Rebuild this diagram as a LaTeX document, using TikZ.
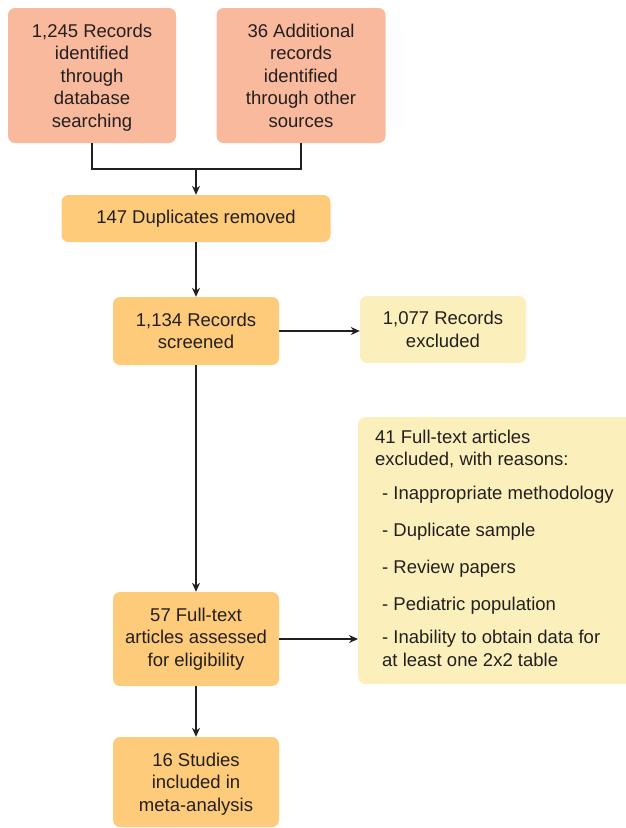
\documentclass[tikz,border=0pt]{standalone}
\usepackage{fontspec}
\setmainfont{Liberation Sans}
\usetikzlibrary{arrows.meta}
\definecolor{salmon}{HTML}{F9B99D}
\definecolor{orangebox}{HTML}{FDCB79}
\definecolor{paleyellow}{HTML}{FBF0BB}
\definecolor{ink}{HTML}{231F20}
\tikzset{
  x=1pt,y=1pt,
  boxbase/.style={rectangle, rounded corners=7pt, draw=none, align=center,
    inner sep=0pt, text=ink, font=\fontsize{18.5}{22.5}\selectfont},
  topbox/.style={boxbase, fill=salmon},
  orbox/.style={boxbase, fill=orangebox},
  ylbox/.style={boxbase, fill=paleyellow},
  conn/.style={draw=ink, line width=1.4pt},
  arr/.style={conn, -{Stealth[length=9pt,width=8pt]}}
}
\begin{document}
\begin{tikzpicture}
\clip (0,0) rectangle (626,-828);
\useasboundingbox (0,0) rectangle (626,-828);
\node[topbox, minimum width=168pt, minimum height=135pt] (A) at (92,-75.5)
  {1,245 Records\\identified\\through\\database\\\smash{searching}};
\node[topbox, minimum width=169pt, minimum height=135pt] (B) at (301,-75.5)
  {36 Additional\\records\\identified\\through other\\sources};
\node[orbox, minimum width=269pt, minimum height=47pt] (dup) at (196,-218.5)
  {147 Duplicates removed};
\node[orbox, minimum width=166pt, minimum height=68pt] (scr) at (196,-331)
  {1,134 Records\\screened};
\node[ylbox, minimum width=166pt, minimum height=67pt] (exc) at (443,-329.5)
  {1,077 Records\\excluded};
\node[orbox, minimum width=166pt, minimum height=94pt] (full) at (196,-639)
  {57 Full-text\\articles assessed\\for eligibility};
\node[ylbox, minimum width=290pt, minimum height=267pt, anchor=north west] (rsn) at (358,-417) {};
\node[boxbase, align=left, anchor=north west] (rsntext) at (375,-429.5)
  {41 Full-text articles\\excluded, with reasons:\\[11.5pt]
   \hspace{7pt}- Inappropriate methodology\\[14.5pt]
   \hspace{7pt}- Duplicate sample\\[14.5pt]
   \hspace{7pt}- Review papers\\[14.5pt]
   \hspace{7pt}- Pediatric population\\[10.5pt]
   \hspace{7pt}- Inability to obtain data for\\
   \hspace{7pt}at least one 2x2 table};
\node[orbox, minimum width=166pt, minimum height=90pt] (stu) at (196,-782)
  {16 Studies\\included in\\\smash{meta-analysis}};
\coordinate (merge) at (196,-169);
\draw[conn] (A.south) |- (merge) -| (B.south);
\draw[arr] (merge) -- (dup.north);
\draw[arr] (dup.south) -- (scr.north);
\draw[arr] (scr.south) -- (full.north);
\draw[arr] (full.south) -- (stu.north);
\draw[arr] (scr.east) -- (scr.east -| exc.west);
\draw[arr] (full.east) -- (full.east -| rsn.west);
\end{tikzpicture}
\end{document}
